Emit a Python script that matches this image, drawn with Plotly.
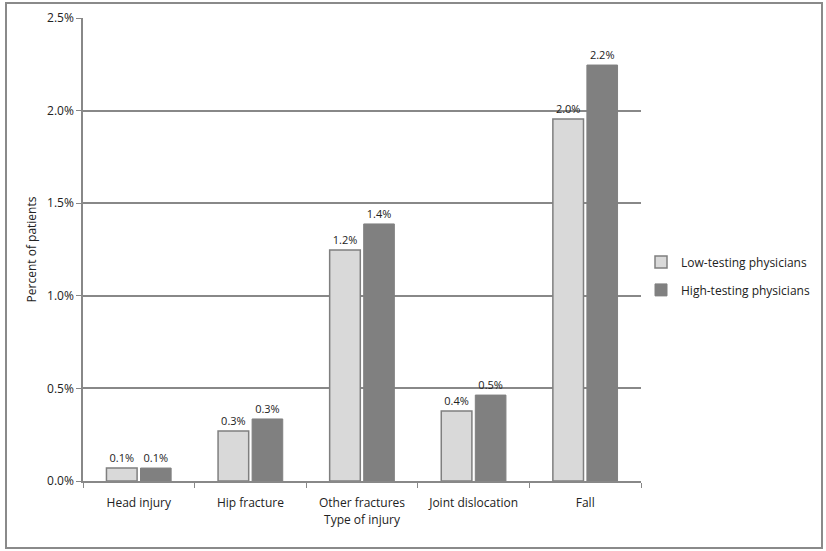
import plotly.graph_objects as go

injuries = ['Head injury', 'Hip fracture', 'Other fractures', 'Joint dislocation', 'Fall']
low_testing = [0.07, 0.27, 1.247, 0.378, 1.955]
high_testing = [0.07, 0.335, 1.388, 0.464, 2.246]

font = 'Open Sans, Liberation Sans, sans-serif'

fig = go.Figure()
fig.add_trace(go.Bar(x=injuries, y=low_testing, name='Low-testing physicians', legendgroup='low',
                     marker=dict(color='#d9d9d9', line=dict(color='#7f7f7f', width=1.5)),
                     texttemplate='%{y:.1f}%', textposition='outside',
                     textfont=dict(size=11, color='#222'), cliponaxis=False))
fig.add_trace(go.Bar(x=injuries, y=high_testing, name='High-testing physicians', legendgroup='high',
                     marker=dict(color='#808080', line=dict(color='#808080', width=1)),
                     texttemplate='%{y:.1f}%', textposition='outside',
                     textfont=dict(size=11, color='#222'), cliponaxis=False))

L, R, T, B = 83, 185, 18, 70
W, H = 826, 551
pw, ph = W - L - R, H - T - B

fig.update_layout(
    width=W, height=H,
    margin=dict(l=L, r=R, t=T, b=B, autoexpand=False),
    paper_bgcolor='white', plot_bgcolor='white',
    font=dict(family=font, size=12, color='#222'),
    barmode='group', bargap=0.39, bargroupgap=0.1,
    legend=dict(x=1.0, y=0.443, xanchor='left', yanchor='middle',
                font=dict(size=12), itemwidth=30, tracegroupgap=9),
    shapes=[dict(type='rect', xref='paper', yref='paper',
                 x0=(6 - L) / pw, x1=(822 - L) / pw,
                 y0=-(548 - T - ph) / ph, y1=1 + (T - 3) / ph,
                 line=dict(color='#8a8a8a', width=2))],
)
fig.update_yaxes(range=[0, 2.5], dtick=0.5, tickformat='.1f', ticksuffix='%',
                 showgrid=True, gridcolor='#888', gridwidth=1.5,
                 showline=True, linecolor='#888', linewidth=1.5,
                 ticks='outside', ticklen=5, tickcolor='#888', automargin=False,
                 title=dict(text='Percent of patients', font=dict(size=12), standoff=8),
                 tickfont=dict(size=12), zeroline=False)
fig.update_xaxes(showline=True, linecolor='#888', linewidth=1.5, automargin=False,
                 ticks='outside', tickson='boundaries', ticklen=5, tickcolor='#888',
                 ticklabelstandoff=10,
                 title=dict(text='Type of injury', font=dict(size=12), standoff=4),
                 tickfont=dict(size=12))

fig.write_html('out.html', config={'displayModeBar': False},
               post_script="document.body.style.margin='0px';")
